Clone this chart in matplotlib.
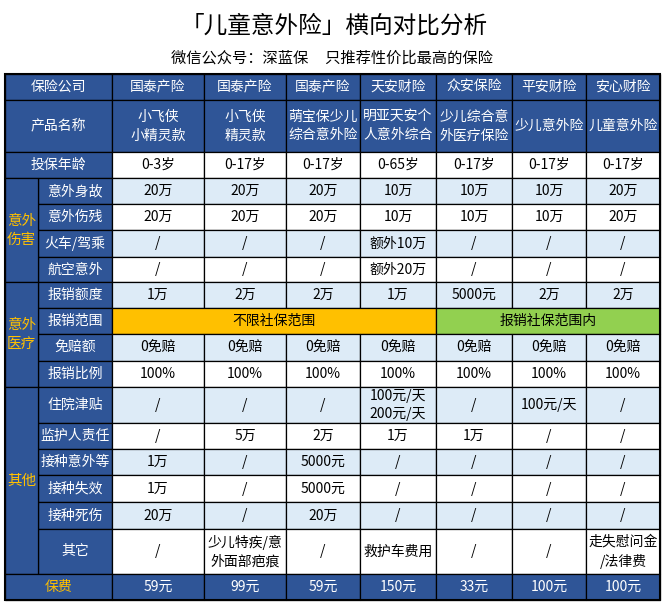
"""
儿童意外险 横向对比表
"""

import matplotlib.pyplot as plt
from matplotlib.patches import Rectangle

plt.rcParams['font.family'] = ['Noto Sans CJK SC', 'DejaVu Sans']

BLUE = '#2F5597'
LIGHT = '#DDEBF7'
ORANGE = '#FFC000'
GREEN = '#92D050'

companies = ['国泰产险', '国泰产险', '国泰产险', '天安财险', '众安保险', '平安财险', '安心财险']
products = ['小飞侠\n小精灵款', '小飞侠\n精灵款', '萌宝保少儿\n综合意外险', '明亚天安个\n人意外综合',
            '少儿综合意\n外医疗保险', '少儿意外险', '儿童意外险']
ages = ['0-3岁', '0-17岁', '0-17岁', '0-65岁', '0-17岁', '0-17岁', '0-17岁']

groups = ['意外\n伤害', '意外\n医疗', '其他']
group_rows = [
    ['意外身故', '意外伤残', '火车/驾乘', '航空意外'],
    ['报销额度', '报销范围', '免赔额', '报销比例'],
    ['住院津贴', '监护人责任', '接种意外等', '接种失效', '接种死伤', '其它'],
]

death = ['20万', '20万', '20万', '10万', '10万', '10万', '20万']
disability = ['20万', '20万', '20万', '10万', '10万', '10万', '20万']
train = ['/', '/', '/', '额外10万', '/', '/', '/']
flight = ['/', '/', '/', '额外20万', '/', '/', '/']
limit = ['1万', '2万', '2万', '1万', '5000元', '2万', '2万']
scope = ['不限社保范围', '报销社保范围内']  # first 4 / last 3
deductible = ['0免赔'] * 7
ratio = ['100%'] * 7
hospital = ['/', '/', '/', '100元/天\n200元/天', '/', '100元/天', '/']
guardian = ['/', '5万', '2万', '1万', '1万', '/', '/']
vacc_acc = ['1万', '/', '5000元', '/', '/', '/', '/']
vacc_fail = ['1万', '/', '5000元', '/', '/', '/', '/']
vacc_death = ['20万', '/', '20万', '/', '/', '/', '/']
others = ['/', '少儿特疾/意\n外面部疤痕', '/', '救护车费用', '/', '/', '走失慰问金\n/法律费']
premium = ['59元', '99元', '59元', '150元', '33元', '100元', '100元']

# layout (pixels)
x_edges = [5, 38, 112, 204, 286, 360, 436, 512, 586, 660]
col_x = x_edges[2:]
y_edges = [74, 100, 152, 178, 204, 230, 257, 282, 308, 334, 361, 387,
           423, 449, 475, 502, 529, 574, 600]

fig = plt.figure(figsize=(6.63, 6.07), dpi=100)
ax = fig.add_axes([0, 0, 1, 1])
ax.set_xlim(0, 663)
ax.set_ylim(607, 0)
ax.axis('off')

FS = 10


def cell(x0, x1, y0, y1, color, text='', tcolor='black', fs=FS):
    ax.add_patch(Rectangle((x0, y0), x1 - x0, y1 - y0, facecolor=color,
                           edgecolor='black', linewidth=0.9))
    if text:
        ax.text((x0 + x1) / 2, (y0 + y1) / 2, text, ha='center', va='center',
                color=tcolor, fontsize=fs, linespacing=1.45)


ax.text(334, 26, '「儿童意外险」横向对比分析', ha='center', va='center', fontsize=17)
ax.text(332, 58, '微信公众号：深蓝保     只推荐性价比最高的保险', ha='center', va='center', fontsize=11)

# header rows
cell(x_edges[0], x_edges[2], y_edges[0], y_edges[1], BLUE, '保险公司', 'white')
cell(x_edges[0], x_edges[2], y_edges[1], y_edges[2], BLUE, '产品名称', 'white')
cell(x_edges[0], x_edges[2], y_edges[2], y_edges[3], BLUE, '投保年龄', 'white')
for i in range(7):
    cell(col_x[i], col_x[i + 1], y_edges[0], y_edges[1], BLUE, companies[i], 'white')
    cell(col_x[i], col_x[i + 1], y_edges[1], y_edges[2], BLUE, products[i], 'white')
    cell(col_x[i], col_x[i + 1], y_edges[2], y_edges[3], 'white', ages[i])

body = [death, disability, train, flight, limit, None, deductible, ratio,
        hospital, guardian, vacc_acc, vacc_fail, vacc_death, others]
labels = [lab for g in group_rows for lab in g]

for r, vals in enumerate(body):
    y0, y1 = y_edges[r + 3], y_edges[r + 4]
    cell(x_edges[1], x_edges[2], y0, y1, BLUE, labels[r], 'white')
    bg = LIGHT if r % 2 == 0 else 'white'
    if vals is None:
        cell(col_x[0], col_x[4], y0, y1, ORANGE, scope[0])
        cell(col_x[4], col_x[7], y0, y1, GREEN, scope[1])
        continue
    for i in range(7):
        cell(col_x[i], col_x[i + 1], y0, y1, bg, vals[i])

# group labels
start = 3
for g, rows in zip(groups, group_rows):
    y0, y1 = y_edges[start], y_edges[start + len(rows)]
    cell(x_edges[0], x_edges[1], y0, y1, BLUE, g, ORANGE, fs=10.5)
    start += len(rows)

# premium row
y0, y1 = y_edges[-2], y_edges[-1]
cell(x_edges[0], x_edges[2], y0, y1, BLUE, '保费', ORANGE)
for i in range(7):
    cell(col_x[i], col_x[i + 1], y0, y1, BLUE, premium[i], 'white')

ax.add_patch(Rectangle((x_edges[0], y_edges[0]), x_edges[-1] - x_edges[0],
                       y_edges[-1] - y_edges[0], fill=False, edgecolor='black', linewidth=1.5))

fig.savefig('out.png', dpi=100)
